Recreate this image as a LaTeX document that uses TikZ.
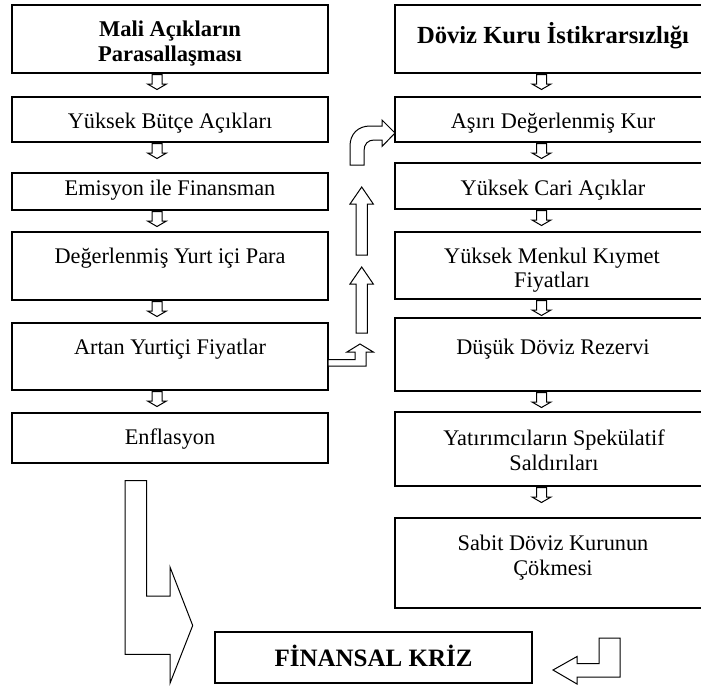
\documentclass[tikz,border=0pt]{standalone}
\usepackage{fontspec}
\setmainfont{Liberation Serif}
\usetikzlibrary{calc}
\tikzset{
  box/.style={draw, line width=1.2pt, inner sep=0, outer sep=0, minimum width=316pt},
  txt/.style={anchor=base, inner sep=0, outer sep=0, font=\fontsize{22.3}{26}\selectfont},
  btxt/.style={txt, font=\fontsize{22.5}{26}\selectfont\bfseries},
  bigtxt/.style={txt, font=\fontsize{25}{28}\selectfont\bfseries},
  blockarr/.style={draw, fill=white, line width=1pt, line join=miter},
}
\newcommand{\dnarr}[1]{\draw[blockarr] ($(#1)+(-5,0)$) -- ++(0,9.5) -- ++(-4.5,0) -- ++(9.5,5.5) -- ++(9.5,-5.5) -- ++(-4.5,0) -- ++(0,-9.5) -- cycle;}
\begin{document}
\begin{tikzpicture}[x=1pt,y=-1pt]
\useasboundingbox (0,0) rectangle (701,688);
\clip (0,0) rectangle (701,688);
\fill[white] (0,0) rectangle (701,688);

% left column
\node[box, minimum height=68pt] (L1) at (170,39) {};
\node[btxt] (L1a) at (170,36) {Mali Açıkların};
\node[btxt] (L1b) at (170,61.5) {Parasallaşması};
\node[box, minimum height=45pt] (L2) at (170,119.5) {};
\node[txt] (L2t) at (170,128) {Yüksek Bütçe Açıkları};
\node[box, minimum height=37pt] (L3) at (170,191.5) {};
\node[txt] (L3t) at (170,195) {Emisyon ile Finansman};
\node[box, minimum height=68pt] (L4) at (170,266) {};
\node[txt] (L4t) at (170,263.3) {Değerlenmiş Yurt içi Para};
\node[box, minimum height=67pt] (L5) at (170,356.5) {};
\node[txt] (L5t) at (170,354) {Artan Yurtiçi Fiyatlar};
\node[box, minimum height=50pt] (L6) at (170,438) {};
\node[txt] (L6t) at (170,444) {Enflasyon};

% right column
\node[box, minimum height=68pt] (R1) at (553,39) {};
\node[bigtxt, font=\fontsize{24.6}{28}\selectfont\bfseries] (R1t) at (553,43.3) {Döviz Kuru İstikrarsızlığı};
\node[box, minimum height=45pt] (R2) at (553,119.5) {};
\node[txt] (R2t) at (553,128.3) {Aşırı Değerlenmiş Kur};
\node[box, minimum height=46pt] (R3) at (553,186) {};
\node[txt] (R3t) at (553,195) {Yüksek Cari Açıklar};
\node[box, minimum height=67pt] (R4) at (553,265.5) {};
\node[txt] (R4a) at (552,263.3) {Yüksek Menkul Kıymet};
\node[txt] (R4b) at (552,287.3) {Fiyatları};
\node[box, minimum height=73pt] (R5) at (553,354.5) {};
\node[txt] (R5t) at (553,354) {Düşük Döviz Rezervi};
\node[box, minimum height=74pt] (R6) at (553,449) {};
\node[txt] (R6a) at (554,445) {Yatırımcıların Spekülatif};
\node[txt] (R6b) at (554,470) {Saldırıları};
\node[box, minimum height=90pt] (R7) at (553,563) {};
\node[txt] (R7a) at (553,550) {Sabit Döviz Kurunun};
\node[txt] (R7b) at (553,575) {Çökmesi};

% final box
\node[box, minimum width=317pt, minimum height=51pt] (FK) at (373.5,657.5) {};
\node[bigtxt] (FKt) at (373.5,666.7) {FİNANSAL KRİZ};

% small down arrows
\foreach \b in {L1,L2,L3,L4,L5}{
  \coordinate (s\b) at ($(\b.south)+(-13,1.5)$);
  \dnarr{s\b}
}
\foreach \b in {R1,R2,R3,R4,R5,R6}{
  \coordinate (s\b) at ($(\b.south)+(-11.5,1.5)$);
  \dnarr{s\b}
}

% bent arrow from Artan Yurtiçi Fiyatlar upward
\coordinate (bendA) at (L5.east |- 0,359.5);
\draw[blockarr] (bendA) -- (355,359.5) -- (355,352) -- (347,352) -- (360,344)
  -- (373.3,352) -- (366,352) -- (366,366) -- (L5.east |- 0,366) -- cycle;

% vertical up arrows
\draw[blockarr] (356,255) -- (356,204) -- (350,204) -- (361.7,187) -- (373.3,204)
  -- (367.3,204) -- (367.3,255) -- cycle;
\draw[blockarr] (356,333) -- (356,284) -- (350,284) -- (361.7,267) -- (373.3,284)
  -- (367.3,284) -- (367.3,333) -- cycle;

% curved arrow into Aşırı Değerlenmiş Kur
\coordinate (ctip) at (R2.west |- 0,133);
\draw[blockarr] (350,165) -- (350,146) .. controls (350,134) and (358,126) .. (370,126)
  -- (382,126) -- (382,120) -- (ctip) -- (382,146.5) -- (382,140) -- (374,140)
  .. controls (368,140) and (364,144) .. (364,151) -- (364,165) -- cycle;

% big L arrow from Enflasyon to crisis
\draw[blockarr] (125,480.7) -- (146.7,480.7) -- (146.7,596) -- (170,596) -- (170,567)
  -- (192.7,625.5) -- (170,683.3) -- (170,654.3) -- (125,654.3) -- cycle;

% return arrow from right column to crisis
\draw[blockarr] (620,638) -- (620,677) -- (577,677) -- (577,684) -- (553,670)
  -- (577,656.5) -- (577,663.5) -- (599,663.5) -- (599,638) -- cycle;
\end{tikzpicture}
\end{document}
